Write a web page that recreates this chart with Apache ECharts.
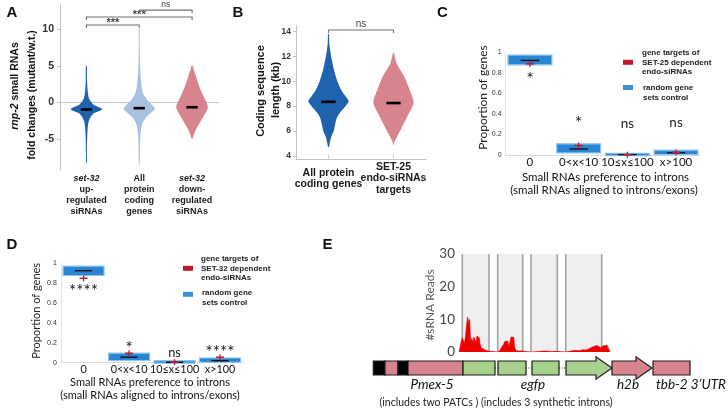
<!DOCTYPE html>
<html><head><meta charset="utf-8">
<script src="https://cdn.jsdelivr.net/npm/echarts@6/dist/echarts.min.js"></script>
<style>html,body{margin:0;padding:0;background:#fff}#c{width:728px;height:417px}</style>
</head><body><div id="c"></div>
<script>
// ================= DATA =================
// Panel A : rnp-2 small RNA fold changes (violins); density profiles [value, relative width]
const catsA = ['set-32\nup-\nregulated\nsiRNAs', 'All\nprotein\ncoding\ngenes', 'set-32\ndown-\nregulated\nsiRNAs'];
const densityA_up = [[5.0,0.02],[3.0,0.04],[2.0,0.065],[1.2,0.1],[0.6,0.16],[0.2,0.26],[-0.3,0.45],[-0.6,0.77],[-0.9,1],[-1.2,0.77],[-1.5,0.45],[-2.0,0.26],[-2.6,0.14],[-3.5,0.08],[-5,0.045],[-7,0.025],[-8.2,0.01]];
const densityA_all = [[10,0.02],[8,0.025],[5.7,0.045],[3.9,0.08],[2.1,0.16],[1.2,0.25],[0.27,0.54],[-0.3,0.8],[-0.85,1],[-1.4,0.75],[-2.0,0.44],[-2.9,0.19],[-4.3,0.08],[-6,0.045],[-8.5,0.015]];
const densityA_down = [[5.05,0],[4.5,0.1],[3.45,0.26],[2.1,0.47],[0.73,0.75],[-0.64,1],[-2.0,0.69],[-3.4,0.31],[-4.3,0.125],[-4.95,0]];
const mediansA = [-0.95, -0.77, -0.64];
const ticksA = [-5, 0, 5, 10];
const bracketsA = [[0, 1, 10.57, '***'], [0, 2, 11.66, '***'], [1, 2, 12.6, 'ns']];

// Panel B : coding sequence length (kb)
const catsB = ['All protein\ncoding genes', 'SET-25\nendo-siRNAs\ntargets'];
const densityB_all = [[13.8,0.01],[13,0.04],[12,0.13],[11,0.26],[10,0.44],[9.3,0.63],[8.8,0.84],[8.4,1],[8.0,0.84],[7.5,0.58],[7,0.4],[6,0.26],[5.5,0.13],[5,0.06],[4.7,0.01]];
const densityB_set25 = [[12.3,0],[11.9,0.08],[11.4,0.17],[10.4,0.53],[9.4,0.78],[8.3,1],[7.3,0.73],[6.3,0.42],[5.5,0.16],[5.1,0.04],[4.9,0]];
const mediansB = [8.35, 8.25];
const ticksB = [4, 6, 8, 10, 12, 14];
const bracketsB = [[0, 1, 14.14, 'ns']];

// Panels C & D : proportion of genes by intron preference
const catsCD = ['0', '0<x<10', '10≤x≤100', 'x>100'];
const ticksCD = [0, 0.2, 0.4, 0.6, 0.8, 1];
const boxC = [[0.88,0.965],[0.025,0.104],[0,0.012],[0.008,0.042]];
const medianC = [0.918, 0.058, 0.004, 0.022];
const targetC = [0.885, 0.092, 0.003, 0.026];
const sigC = ['*', '*', 'ns', 'ns'];
const sigPosC = [0.786, 0.356, 0.31, 0.323];
const boxD = [[0.877,0.96],[0.027,0.09],[0,0.015],[0.008,0.042]];
const medianD = [0.92, 0.055, 0.004, 0.02];
const targetD = [0.844, 0.094, 0.005, 0.055];
const sigD = ['****', '*', 'ns', '****'];
const sigPosD = [0.757, 0.194, 0.11, 0.15];

// Panel E : sRNA reads along reporter
const ticksE = [0, 10, 20, 30];
const intronWindows = [[3.3,30],[38.7,63.7],[72,98.3],[106.7,142.7]];
const sRNAReads = [[0,0],[2,0],[2.3,3.4],[3.3,4.4],[4.3,3.6],[5.3,2.5],[6.3,4.4],[7.3,7.4],[8,9.5],[8.7,10.7],[9.3,11.2],[10,8.5],[10.7,10],[11.3,5.4],[12,3.4],[13,4.2],[14,2.9],[15,4.6],[16,3.6],[17,2.9],[18,4.9],[19.3,5.2],[20.3,4.4],[21,2.5],[22.3,1.3],[24,1.5],[26,0.6],[29.3,0.3],[31,0],
 [38.7,0],[39.7,0.3],[41.3,0.6],[42.3,1.3],[43.7,1.8],[44.7,2.4],[45.7,3.2],[46.7,2.6],[47.7,3.0],[48.7,3.4],[50,1.8],[51,2.0],[52,4.6],[53.3,4.7],[54.7,4.5],[55.7,1.3],[57,0.5],[59.3,0.3],[62.7,0.3],[63.7,0],
 [72,0],[73,0.2],[80,0.15],[84,0.3],[86,0.4],[88,0.3],[92,0.15],[97,0.2],[98.3,0],
 [107,0],[108,0.2],[112,0.3],[116,0.5],[120,0.4],[124,0.7],[127,0.6],[130,1.0],[132,1.3],[134,1.6],[136,1.9],[138,2.0],[140,1.6],[142,1.2],[144,1.9],[146,1.6],[148,2.1],[150,1.8],[151,0]];
// reporter construct parts [start, end, kind]
const constructParts = [[3.3,15,'patc'],[15,28,'promoter'],[28,38,'patc'],[38,93,'promoter'],[93,125,'exon'],[125,128,'intron'],[128,156,'exon'],[156,162,'intron'],[162,189,'exon'],[189,196,'intron'],[196,242,'exonArrow'],[242,282,'h2bArrow'],[283,320,'utr']];

// ================= STYLE HELPERS =================
const ARIAL = "'Liberation Sans', Arial, sans-serif";
const CAL = "Lato, 'Open Sans', sans-serif";
const PINK = '#d8848f';
const DBLUE = '#1f62ad';
const LBLUE = '#a9c1e1';
const GREEN = '#a9d18e';
const RED = '#c0182e';
const BOXBLUE = '#2a86d2';

function violinSeries(xi, profiles, colors, medians, maxHalf, medHalf) {
  return {
    type: 'custom', xAxisIndex: xi, yAxisIndex: xi,
    data: medians.map((m, i) => [i, m]),
    renderItem: (params, api) => {
      const i = params.dataIndex;
      const band = api.size([1, 0])[0];
      const cx = api.coord([i, 0])[0];
      const prof = profiles[i];
      const pts = [];
      prof.forEach(([y, d]) => pts.push([cx + Math.max(d * maxHalf * band, 0.45), api.coord([i, y])[1]]));
      for (let k = prof.length - 1; k >= 0; k--) {
        const [y, d] = prof[k];
        pts.push([cx - Math.max(d * maxHalf * band, 0.45), api.coord([i, y])[1]]);
      }
      const my = api.coord([i, medians[i]])[1];
      return { type: 'group', children: [
        { type: 'polygon', shape: { points: pts, smooth: 0.25 }, style: { fill: colors[i] } },
        { type: 'line', shape: { x1: cx - medHalf * band, y1: my, x2: cx + medHalf * band, y2: my }, style: { stroke: '#000', lineWidth: 2.6 } }
      ]};
    }
  };
}
function bracketSeries(xi, brackets, fontSize) {
  return {
    type: 'custom', xAxisIndex: xi, yAxisIndex: xi,
    data: brackets.map(b => [b[0], b[2]]),
    renderItem: (params, api) => {
      const [a, b, lv, txt] = brackets[params.dataIndex];
      const p1 = api.coord([a, lv]), p2 = api.coord([b, lv]);
      const star = txt !== 'ns';
      return { type: 'group', children: [
        { type: 'polyline', shape: { points: [[p1[0], p1[1] + 3], [p1[0], p1[1]], [p2[0], p2[1]], [p2[0], p2[1] + 3]] }, style: { stroke: '#707070', lineWidth: 1.1, fill: null } },
        { type: 'text', x: (p1[0] + p2[0]) / 2, y: p1[1] + (star ? 3 : -0.5), style: { text: txt, fill: '#444', font: (star ? 'bold 11px ' : fontSize + 'px ') + ARIAL, align: 'center', verticalAlign: 'bottom' } }
      ]};
    }
  };
}
function boxSeries(xi, boxes, medians, targets, sigs, sigPos, sc) {
  return {
    type: 'custom', xAxisIndex: xi, yAxisIndex: xi,
    data: boxes.map((b, i) => [i, b[1]]),
    renderItem: (params, api) => {
      const i = params.dataIndex;
      const band = api.size([1, 0])[0];
      const cx = api.coord([i, 0])[0];
      const hw = 0.45 * band;
      const top = api.coord([i, boxes[i][1]])[1];
      const bot = api.coord([i, boxes[i][0]])[1];
      const my = api.coord([i, medians[i]])[1];
      const ty = api.coord([i, targets[i]])[1];
      const sy = api.coord([i, sigPos[i]])[1];
      const isStar = sigs[i].indexOf('*') >= 0;
      const fs = (isStar ? 18 : 13.5) * sc;
      return { type: 'group', children: [
        { type: 'rect', shape: { x: cx - hw, y: top - 0.5, width: 2 * hw, height: Math.max(bot - top, 1.5) + 1 }, style: { fill: BOXBLUE, stroke: '#8cc4ee', lineWidth: 1.2 } },
        { type: 'line', shape: { x1: cx - 0.19 * band, y1: my, x2: cx + 0.19 * band, y2: my }, style: { stroke: '#111', lineWidth: 1.4 } },
        { type: 'line', shape: { x1: cx - 4, y1: ty, x2: cx + 4, y2: ty }, style: { stroke: RED, lineWidth: 1.5 } },
        { type: 'line', shape: { x1: cx, y1: ty - 3, x2: cx, y2: ty + 3 }, style: { stroke: RED, lineWidth: 1.3 } },
        { type: 'text', x: cx, y: sy + (isStar ? fs * 0.28 : 1), style: { text: sigs[i], fill: '#222', font: fs + 'px ' + CAL, align: 'center', verticalAlign: 'middle' } }
      ]};
    }
  };
}
function catAxisCD(gi, fs, margin) {
  return { type: 'category', gridIndex: gi, data: catsCD,
    axisLine: { lineStyle: { color: '#dcdcdc', width: 1 } }, axisTick: { show: false },
    axisLabel: { color: '#111', fontFamily: CAL, fontSize: fs, margin: margin, verticalAlign: 'middle', interval: 0 } };
}
function valAxisCD(gi) {
  return { type: 'value', gridIndex: gi, min: 0, max: 1,
    axisLine: { show: true, lineStyle: { color: '#e4e4e4' } }, axisTick: { show: false }, splitLine: { show: false },
    axisLabel: { customValues: ticksCD, color: '#333', fontSize: 7, fontFamily: ARIAL, margin: 4 } };
}
function rotText(x, y, text, font, fill, rich) {
  return { type: 'text', x: x, y: y, rotation: Math.PI / 2, style: { text: text, font: font, fill: fill || '#111', align: 'center', verticalAlign: 'middle', rich: rich } };
}
function txt(x, y, text, font, align, extra) {
  return { type: 'text', x: x, y: y, style: Object.assign({ text: text, font: font, fill: '#111', align: align || 'center', verticalAlign: 'middle' }, extra || {}) };
}

const chart = echarts.init(document.getElementById('c'));
const G = (l, t, w, h) => ({ left: l, top: t, width: w, height: h, containLabel: false, outerBoundsMode: 'none' });

const option = {
  animation: false,
  backgroundColor: '#fff',
  grid: [G(60, 5, 158.5, 165), G(296, 25.5, 130, 134), G(505.6, 52, 194.8, 103), G(60.8, 262.7, 182, 100), G(459, 254, 151, 98), G(370, 361, 322, 14)],
  xAxis: [
    { type: 'category', gridIndex: 0, data: catsA,
      axisLine: { lineStyle: { color: '#c4c4c4' } },
      axisTick: { show: true, alignWithLabel: true, inside: true, length: 5, lineStyle: { color: '#d0d0d0' } },
      axisLabel: { interval: 0, margin: 3, color: '#1a1a1a', fontFamily: ARIAL, fontWeight: 'bold', fontSize: 9, lineHeight: 11,
        formatter: v => v.replace('set-32', '{i|set-32}'),
        rich: { i: { fontStyle: 'italic', fontWeight: 'bold', fontFamily: ARIAL, fontSize: 9, lineHeight: 11, color: '#1a1a1a' } } } },
    { type: 'category', gridIndex: 1, data: catsB,
      axisLine: { lineStyle: { color: '#c4c4c4' } },
      axisTick: { show: true, alignWithLabel: true, inside: true, length: 5, lineStyle: { color: '#d0d0d0' } },
      axisLabel: { interval: 0, margin: 19, verticalAlign: 'middle', color: '#1a1a1a', fontFamily: ARIAL, fontWeight: 'bold', fontSize: 10.5, lineHeight: 11.7 } },
    catAxisCD(2, 11.5, 7),
    catAxisCD(3, 10.8, 6.5),
    { type: 'value', gridIndex: 4, min: 0, max: 151, show: false },
    { type: 'value', gridIndex: 5, min: 0, max: 322, show: false }
  ],
  yAxis: [
    { type: 'value', gridIndex: 0, min: -9.2, max: 13.3,
      axisLine: { show: true, lineStyle: { color: '#c4c4c4' } }, splitLine: { show: false },
      axisTick: { show: true, customValues: ticksA, length: 3, lineStyle: { color: '#c4c4c4' } },
      axisLabel: { customValues: ticksA, color: '#333', fontFamily: ARIAL, fontWeight: 'bold', fontSize: 10.5, margin: 6 } },
    { type: 'value', gridIndex: 1, min: 3.7, max: 14.5,
      axisLine: { show: true, lineStyle: { color: '#c4c4c4' } }, splitLine: { show: false },
      axisTick: { show: true, customValues: ticksB, length: 3, lineStyle: { color: '#c4c4c4' } },
      axisLabel: { customValues: ticksB, color: '#333', fontFamily: ARIAL, fontWeight: 'bold', fontSize: 8.5, margin: 5 } },
    valAxisCD(2),
    valAxisCD(3),
    { type: 'value', gridIndex: 4, min: 0, max: 30, splitLine: { show: false }, axisLine: { show: false }, axisTick: { show: false },
      axisLabel: { customValues: ticksE, color: '#454545', fontFamily: CAL, fontWeight: 'normal', fontSize: 13.5, margin: 4 } },
    { type: 'value', gridIndex: 5, min: 0, max: 1, show: false }
  ],
  series: [
    violinSeries(0, [densityA_up, densityA_all, densityA_down], [DBLUE, LBLUE, PINK], mediansA, 0.3, 0.107),
    bracketSeries(0, bracketsA, 8.5),
    violinSeries(1, [densityB_all, densityB_set25], [DBLUE, PINK], mediansB, 0.31, 0.11),
    bracketSeries(1, bracketsB, 10),
    boxSeries(2, boxC, medianC, targetC, sigC, sigPosC, 1),
    boxSeries(3, boxD, medianD, targetD, sigD, sigPosD, 0.95),
    { type: 'custom', xAxisIndex: 4, yAxisIndex: 4, z: 1,
      data: intronWindows.map(w => [w[0], 30]),
      renderItem: (params, api) => {
        const [s, e] = intronWindows[params.dataIndex];
        const p0 = api.coord([s, 30]), p1 = api.coord([e, 0]);
        return { type: 'group', children: [
          { type: 'rect', shape: { x: p0[0], y: p0[1], width: p1[0] - p0[0], height: p1[1] - p0[1] }, style: { fill: '#efefef' } },
          { type: 'line', shape: { x1: p0[0], y1: p0[1], x2: p0[0], y2: p1[1] }, style: { stroke: '#a3a3a3', lineWidth: 1.6 } },
          { type: 'line', shape: { x1: p1[0], y1: p0[1], x2: p1[0], y2: p1[1] }, style: { stroke: '#a3a3a3', lineWidth: 1.6 } }
        ]};
      } },
    { type: 'line', xAxisIndex: 4, yAxisIndex: 4, z: 3, data: sRNAReads, symbol: 'none',
      lineStyle: { color: '#ee0000', width: 0.6 }, areaStyle: { color: '#ee0000', opacity: 1 } },
    { type: 'custom', xAxisIndex: 5, yAxisIndex: 5,
      data: constructParts.map(p => [p[0], 0]),
      renderItem: (params, api) => {
        const [s, e, kind] = constructParts[params.dataIndex];
        const p0 = api.coord([s, 1]), p1 = api.coord([e, 0]);
        const x0 = p0[0], x1 = p1[0], yt = p0[1], yb = p1[1], ym = (yt + yb) / 2, h = yb - yt;
        const border = { stroke: '#1a1a1a', lineWidth: 1.2 };
        if (kind === 'intron') {
          return { type: 'line', shape: { x1: x0, y1: ym, x2: x1, y2: ym }, style: { stroke: '#222', lineWidth: 1.2, lineDash: [1, 1.5] } };
        }
        if (kind === 'exonArrow' || kind === 'h2bArrow') {
          const hs = x1 - 16, ex = h * 0.3;
          return { type: 'polygon', shape: { points: [[x0, yt], [hs, yt], [hs, yt - ex], [x1, ym], [hs, yb + ex], [hs, yb], [x0, yb]] },
            style: Object.assign({ fill: kind === 'exonArrow' ? GREEN : PINK }, border) };
        }
        const fill = kind === 'patc' ? '#000' : (kind === 'exon' ? GREEN : PINK);
        return { type: 'rect', shape: { x: x0, y: yt, width: x1 - x0, height: h }, style: Object.assign({ fill: fill }, border) };
      } }
  ],
  graphic: [
    txt(12, 13, 'A', 'bold 15px ' + ARIAL),
    txt(238, 13, 'B', 'bold 15px ' + ARIAL),
    txt(442.5, 12.5, 'C', 'bold 15px ' + ARIAL),
    txt(12, 244.5, 'D', 'bold 15px ' + ARIAL),
    txt(327.5, 244.5, 'E', 'bold 15px ' + ARIAL),
    rotText(15, 86, '{i|rnp-2}{b| small RNAs}', 'bold 10.5px ' + ARIAL, '#111', { i: { fontStyle: 'italic', fontWeight: 'bold', fontSize: 10.5, fontFamily: ARIAL, fill: '#111' }, b: { fontWeight: 'bold', fontSize: 10.5, fontFamily: ARIAL, fill: '#111' } }),
    rotText(32, 95, 'fold changes (mutant/w.t.)', 'bold 10.5px ' + ARIAL),
    rotText(261, 91, 'Coding sequence', 'bold 11px ' + ARIAL),
    rotText(275.5, 90, 'length (kb)', 'bold 11px ' + ARIAL),
    rotText(483, 97.5, 'Proportion of genes', '12px ' + CAL, '#222'),
    rotText(36.7, 310.8, 'Proportion of genes', '11px ' + CAL, '#222'),
    txt(605.5, 177.7, 'Small RNAs preference to introns', '11.5px ' + CAL),
    txt(604, 190.7, '(small RNAs aligned to introns/exons)', '11.5px ' + CAL),
    txt(150, 382.7, 'Small RNAs preference to introns', '11px ' + CAL),
    txt(150, 395.7, '(small RNAs aligned to introns/exons)', '11px ' + CAL),
    // legends
    { type: 'rect', shape: { x: 623, y: 59.8, width: 10, height: 5 }, style: { fill: RED } },
    txt(642, 62.3, 'gene targets of\nSET-25 dependent\nendo-siRNAs', 'bold 8px ' + ARIAL, 'left', { lineHeight: 9.5, fill: '#222' }),
    { type: 'rect', shape: { x: 623, y: 85, width: 10, height: 5 }, style: { fill: '#3a8fd8' } },
    txt(643, 92.7, 'random gene\nsets control', 'bold 8px ' + ARIAL, 'left', { lineHeight: 9.5, fill: '#222' }),
    { type: 'rect', shape: { x: 183, y: 265.8, width: 10, height: 5 }, style: { fill: RED } },
    txt(201, 268.3, 'gene targets of\nSET-32 dependent\nendo-siRNAs', 'bold 8px ' + ARIAL, 'left', { lineHeight: 9.5, fill: '#222' }),
    { type: 'rect', shape: { x: 183, y: 291.8, width: 10, height: 5 }, style: { fill: '#3a8fd8' } },
    txt(202, 297.8, 'random gene\nsets control', 'bold 8px ' + ARIAL, 'left', { lineHeight: 9.5, fill: '#222' }),
    // panel E texts
    rotText(430, 305, '#sRNA Reads', '12px ' + CAL, '#555'),
    txt(432, 385, 'Pmex-5', 'italic 13.5px ' + CAL),
    txt(533, 385, 'egfp', 'italic 13.5px ' + CAL),
    txt(628, 385, 'h2b', 'italic 13.5px ' + CAL),
    txt(656, 385, 'tbb-2 3’UTR', 'italic 13.5px ' + CAL, 'left'),
    txt(496, 402.7, '(includes two PATCs ) (includes 3 synthetic introns)', '10.5px ' + CAL, 'center', { fill: '#222' })
  ]
};
chart.setOption(option);
</script></body></html>
